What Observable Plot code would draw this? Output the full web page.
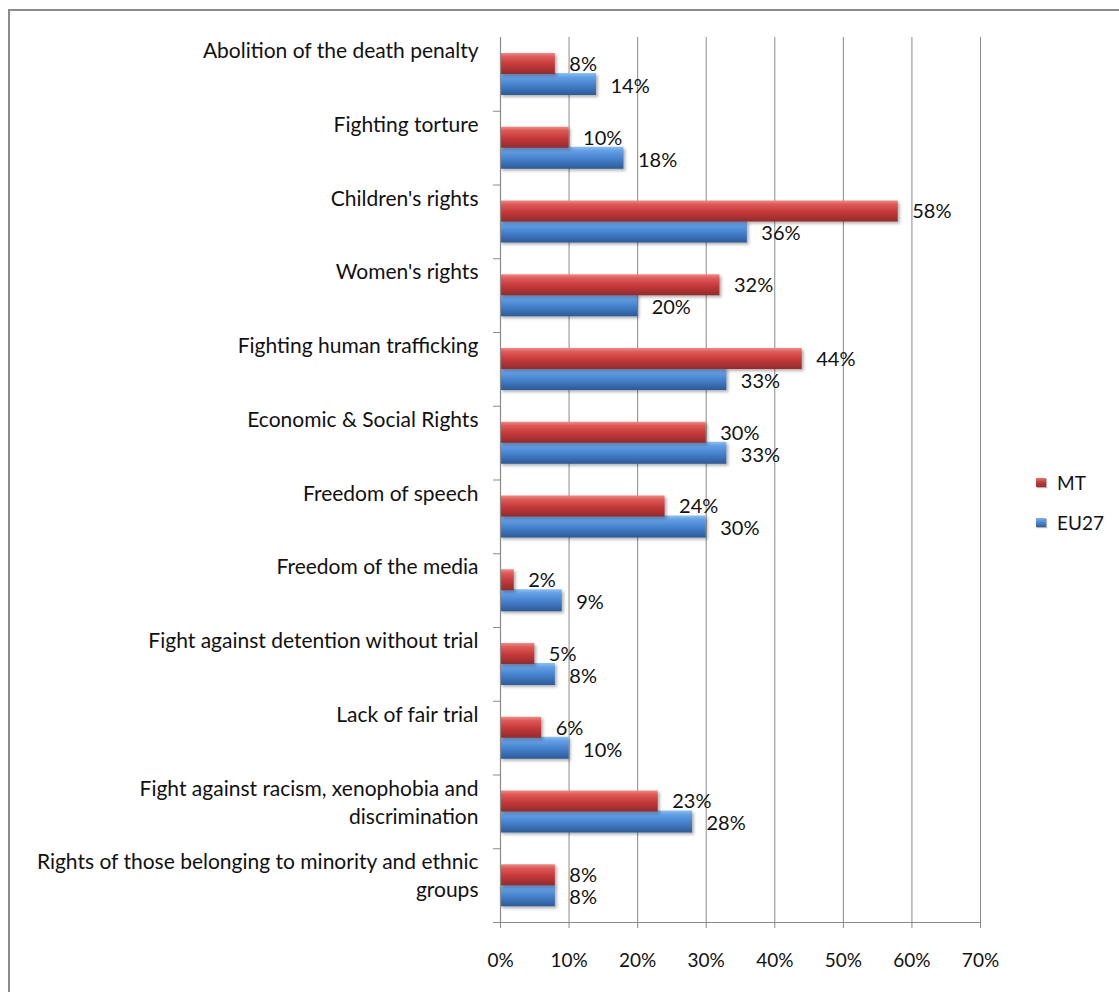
<!DOCTYPE html>
<html>
<head>
<meta charset="utf-8">
<script src="https://cdn.jsdelivr.net/npm/d3@7"></script>
<script src="https://cdn.jsdelivr.net/npm/@observablehq/plot@0.6"></script>
<style>
  html, body { margin: 0; padding: 0; background: #fff; overflow: hidden; }
  #wrap { position: relative; width: 1119px; height: 992px; overflow: hidden; font-family: Lato, "Open Sans", sans-serif; }
  #frame { position: absolute; left: 8px; top: 9px; width: 1300px; height: 1200px; border-left: 2px solid #8c8c8c; border-top: 2px solid #8c8c8c; }
  #chart { position: absolute; left: 0; top: 0; }
  .legend { position: absolute; left: 1036px; font-size: 19px; color: #111; display: flex; align-items: center; }
  .sw { width: 10px; height: 9px; margin-right: 11px; box-shadow: 1px 1px 1px rgba(0,0,0,0.3); }
</style>
</head>
<body>
<div id="wrap">
  <div id="frame"></div>
  <div id="chart"></div>
  <div class="legend" style="top:471px"><div class="sw" style="background:linear-gradient(#e77370,#c0393b 50%,#9a2c2c)"></div>MT</div>
  <div class="legend" style="top:511px"><div class="sw" style="background:linear-gradient(#7fb2ee,#4a86d0 50%,#2e5e9e)"></div>EU27</div>
</div>
<script>
const categories = [
  "Abolition of the death penalty",
  "Fighting torture",
  "Children's rights",
  "Women's rights",
  "Fighting human trafficking",
  "Economic & Social Rights",
  "Freedom of speech",
  "Freedom of the media",
  "Fight against detention without trial",
  "Lack of fair trial",
  "Fight against racism, xenophobia and discrimination",
  "Rights of those belonging to minority and ethnic groups"
];
const categoryLabels = [
  "Abolition of the death penalty",
  "Fighting torture",
  "Children's rights",
  "Women's rights",
  "Fighting human trafficking",
  "Economic & Social Rights",
  "Freedom of speech",
  "Freedom of the media",
  "Fight against detention without trial",
  "Lack of fair trial",
  "Fight against racism, xenophobia and\ndiscrimination",
  "Rights of those belonging to minority and ethnic\ngroups"
];
const mtValues   = [8, 10, 58, 32, 44, 30, 24, 2, 5, 6, 23, 8];
const eu27Values = [14, 18, 36, 20, 33, 33, 30, 9, 8, 10, 28, 8];
const xTicks = [0, 10, 20, 30, 40, 50, 60, 70];

const mtData = categories.map((c, i) => ({cat: c, value: mtValues[i]}));
const euData = categories.map((c, i) => ({cat: c, value: eu27Values[i]}));
const labelData = categories.map((c, i) => ({cat: c, label: categoryLabels[i]}));

const W = 1119, H = 992, MT = 37, MB = 70, ML = 500, MR = 139;
const band = (H - MT - MB) / categories.length;
const fs = 21;
const vfs = 20;

const chart = Plot.plot({
  width: W, height: H,
  marginTop: MT, marginBottom: MB, marginLeft: ML, marginRight: MR,
  style: {fontFamily: "Lato, 'Open Sans', sans-serif", color: "#111", background: "transparent"},
  x: {domain: [0, 70], label: null},
  y: {domain: categories, padding: 0, round: false, axis: null, label: null},
  marks: [
    Plot.gridX({ticks: xTicks.slice(1), stroke: "#8a8a8a", strokeOpacity: 1, strokeWidth: 1}),
    Plot.barX(euData, {x: "value", y: "cat", fill: "url(#gBlue)", insetTop: 36, insetBottom: band - 36 - 22, className: "bars"}),
    Plot.barX(mtData, {x: "value", y: "cat", fill: "url(#gRed)", insetTop: 16, insetBottom: band - 16 - 21, className: "bars"}),
    Plot.ruleX([0], {stroke: "#8a8a8a", strokeWidth: 1.2}),
    Plot.frame({anchor: "bottom", stroke: "#8a8a8a", strokeWidth: 1.2}),
    Plot.axisY({tickSize: 7, tickFormat: () => "", label: null, dy: band / 2, stroke: "#8a8a8a", strokeOpacity: 1}),
    Plot.axisX({ticks: xTicks, tickFormat: d => d + "%", label: null, tickSize: 6, tickPadding: 25, fontSize: 19, stroke: "#8a8a8a", strokeOpacity: 1, fill: "#111"}),
    Plot.text(labelData, {y: "cat", text: "label", frameAnchor: "left", textAnchor: "end", lineAnchor: "top",
      dx: -22, dy: -22 - 0.39 * fs - 6, fontSize: fs, lineHeight: 28 / fs, fill: "#111"}),
    Plot.text(mtData, {x: "value", y: "cat", text: d => d.value + "%", textAnchor: "start", dx: 14, dy: -10, fontSize: vfs, fill: "#111"}),
    Plot.text(euData, {x: "value", y: "cat", text: d => d.value + "%", textAnchor: "start", dx: 14, dy: 12, fontSize: vfs, fill: "#111"})
  ]
});

const ns = "http://www.w3.org/2000/svg";
const defs = document.createElementNS(ns, "defs");
defs.innerHTML = `
  <linearGradient id="gRed" x1="0" y1="0" x2="0" y2="1">
    <stop offset="0" stop-color="#f08a86"/>
    <stop offset="0.18" stop-color="#e05a57"/>
    <stop offset="0.55" stop-color="#c4393a"/>
    <stop offset="1" stop-color="#962a2b"/>
  </linearGradient>
  <linearGradient id="gBlue" x1="0" y1="0" x2="0" y2="1">
    <stop offset="0" stop-color="#8fc0f4"/>
    <stop offset="0.18" stop-color="#62a0e6"/>
    <stop offset="0.55" stop-color="#4581cc"/>
    <stop offset="1" stop-color="#2c5a98"/>
  </linearGradient>`;
chart.insertBefore(defs, chart.firstChild);
chart.querySelectorAll(".bars rect").forEach(r => r.style.filter = "drop-shadow(2px 2px 1.5px rgba(0,0,0,0.3))");
document.getElementById("chart").appendChild(chart);
</script>
</body>
</html>
